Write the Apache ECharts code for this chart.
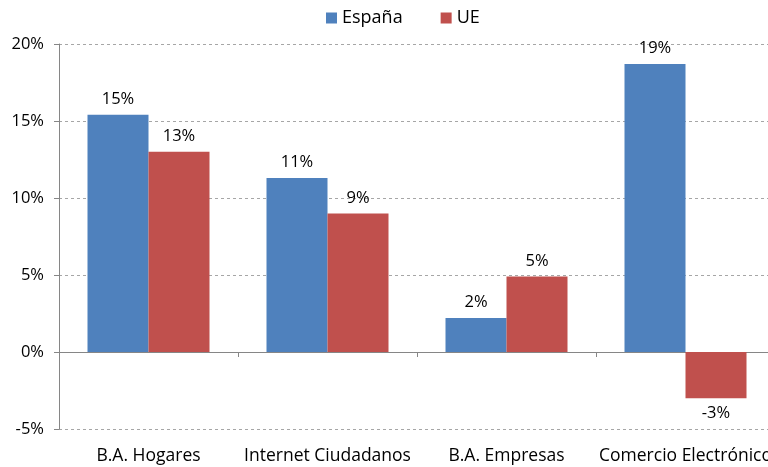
<!DOCTYPE html>
<html>
<head>
<meta charset="utf-8">
<script src="https://cdn.jsdelivr.net/npm/echarts@6/dist/echarts.min.js"></script>
<style>
  html, body { margin: 0; padding: 0; background: #fff; }
  #chart { width: 768px; height: 467px; }
</style>
</head>
<body>
<div id="chart"></div>
<script>
const categories = ["B.A. Hogares", "Internet Ciudadanos", "B.A. Empresas", "Comercio Electrónico"];
const espana = [15.4, 11.3, 2.2, 18.7];
const ue = [13.0, 9.0, 4.9, -3.0];
const yTicks = { min: -5, max: 20, interval: 5 };

const font = "'Open Sans', 'DejaVu Sans', sans-serif";

const labelFmt = (p) => Math.round(p.value) + "%";

// negative bars get their label underneath
const withLabelSide = (arr) =>
  arr.map((v) => (v < 0 ? { value: v, label: { position: "bottom" } } : v));

const chart = echarts.init(document.getElementById("chart"));
chart.setOption({
  animation: false,
  textStyle: { fontFamily: font },
  legend: {
    data: ["España", "UE"],
    top: 4,
    left: 321,
    itemWidth: 11,
    itemHeight: 11,
    itemGap: 38,
    icon: "rect",
    textStyle: { fontSize: 18, color: "#000", fontFamily: font },
  },
  grid: { left: 59, top: 44, width: 716, height: 385, outerBoundsMode: "none", containLabel: false },
  xAxis: [
    {
      type: "category",
      data: categories,
      position: "bottom",
      axisLine: { show: false, onZero: false },
      axisTick: { show: false },
      axisLabel: { color: "#000", fontSize: 17.5, margin: 18, fontFamily: font, interval: 0 },
    },
    {
      type: "category",
      data: categories,
      position: "bottom",
      axisLine: { show: true, onZero: true, lineStyle: { color: "#868686", width: 1 } },
      axisTick: { show: true, length: 5, lineStyle: { color: "#868686" } },
      axisLabel: { show: false },
    },
  ],
  yAxis: {
    type: "value",
    min: yTicks.min,
    max: yTicks.max,
    interval: yTicks.interval,
    axisLine: { show: true, lineStyle: { color: "#868686" } },
    axisTick: { show: true, length: 5, lineStyle: { color: "#868686" } },
    axisLabel: { formatter: "{value}%", color: "#000", fontSize: 16.5, margin: 15, fontFamily: font },
    splitLine: { show: true, lineStyle: { color: "#a6a6a6", type: [3, 3] } },
  },
  series: [
    {
      name: "España",
      type: "bar",
      data: withLabelSide(espana),
      barWidth: 61,
      barGap: "0%",
      itemStyle: { color: "#4f81bd" },
      label: { show: true, position: "top", distance: 7, formatter: labelFmt, color: "#000", fontSize: 16.5, fontFamily: font },
    },
    {
      name: "UE",
      type: "bar",
      data: withLabelSide(ue),
      barWidth: 61,
      barGap: "0%",
      itemStyle: { color: "#c0504d" },
      label: { show: true, position: "top", distance: 7, formatter: labelFmt, color: "#000", fontSize: 16.5, fontFamily: font },
    },
  ],
});
</script>
</body>
</html>
